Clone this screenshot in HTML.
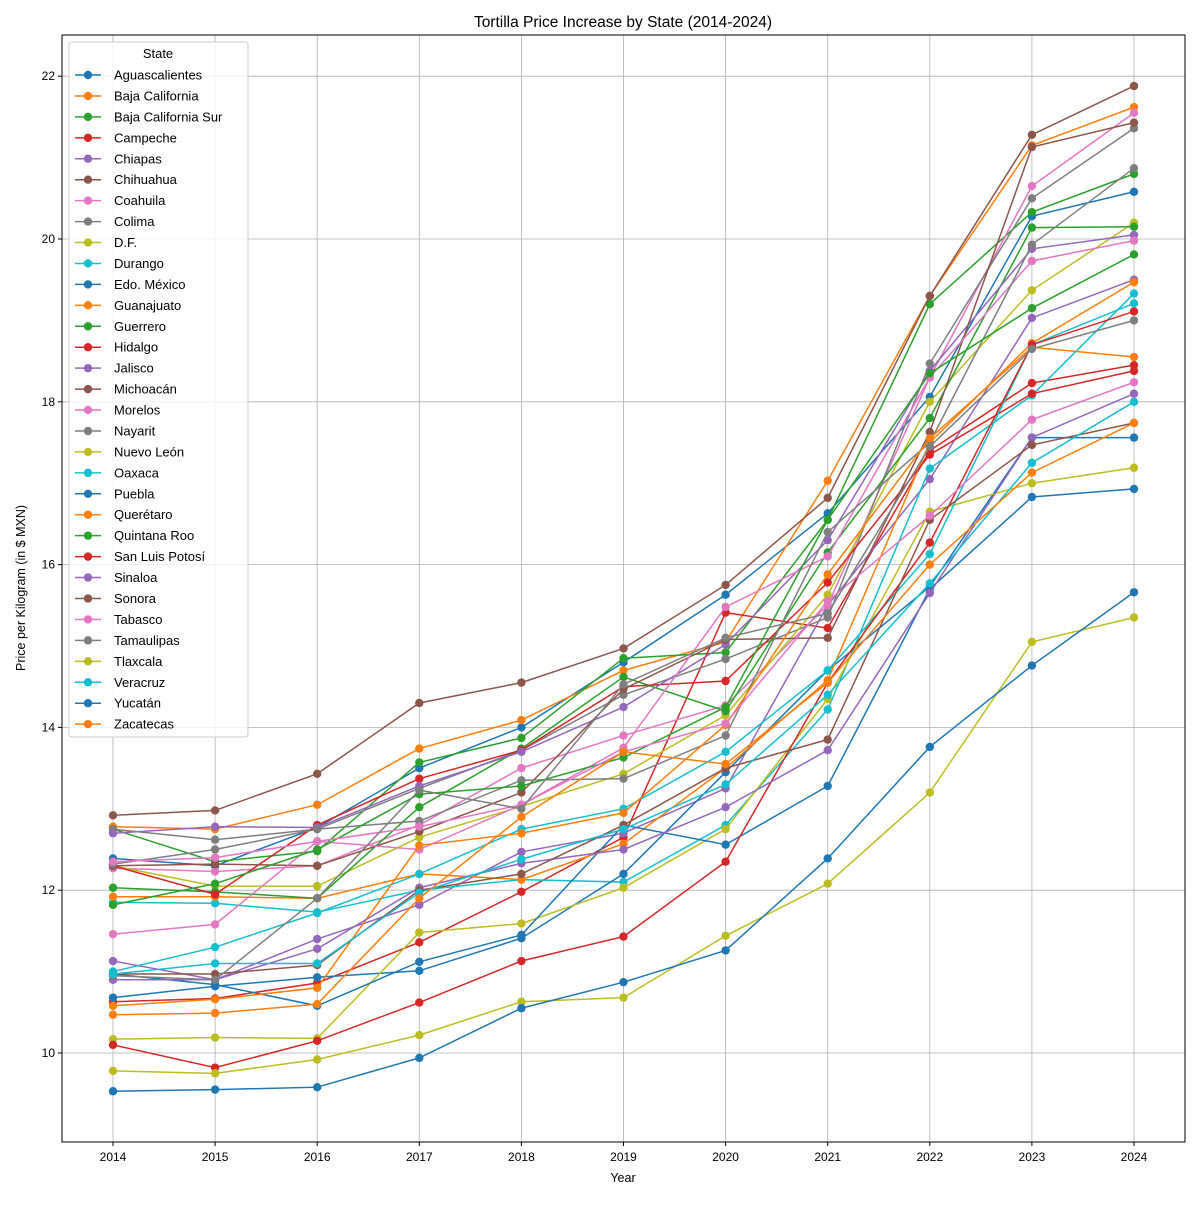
<!DOCTYPE html>
<html><head><meta charset="utf-8"><style>
body{margin:0;background:#fff}
svg{font-family:"Liberation Sans",sans-serif}
</style></head><body>
<svg id="chart" width="1200" height="1200" xmlns="http://www.w3.org/2000/svg"></svg>
<script>
const years=[2014,2015,2016,2017,2018,2019,2020,2021,2022,2023,2024];
const yTicks=[10,12,14,16,18,20,22];
const states=["Aguascalientes","Baja California","Baja California Sur","Campeche","Chiapas","Chihuahua","Coahuila","Colima","D.F.","Durango","Edo. México","Guanajuato","Guerrero","Hidalgo","Jalisco","Michoacán","Morelos","Nayarit","Nuevo León","Oaxaca","Puebla","Querétaro","Quintana Roo","San Luis Potosí","Sinaloa","Sonora","Tabasco","Tamaulipas","Tlaxcala","Veracruz","Yucatán","Zacatecas"];
const aguascalientes=[12.39,12.3,12.77,13.5,14.0,14.8,15.63,16.63,18.06,20.28,20.58];
const bajaCalifornia=[12.78,12.75,13.05,13.74,14.09,14.7,15.05,17.03,19.3,21.15,21.62];
const bajaCaliforniaSur=[12.75,12.35,12.48,13.57,13.87,14.85,14.92,16.55,19.2,20.33,20.8];
const campeche=[10.63,10.67,10.86,11.36,11.98,12.65,15.41,15.22,17.4,18.23,18.45];
const chiapas=[11.13,10.9,11.4,11.82,12.47,12.7,13.25,15.5,17.05,19.03,19.5];
const chihuahua=[12.92,12.98,13.43,14.3,14.55,14.97,15.75,16.82,19.3,21.28,21.88];
const coahuila=[12.27,12.23,12.3,12.8,13.5,13.9,14.27,15.5,18.3,20.65,21.55];
const colima=[12.75,12.62,12.75,13.25,13.72,14.4,14.84,15.35,18.47,20.5,21.36];
const df=[12.3,12.05,12.05,12.65,13.03,13.43,14.15,15.63,18.0,19.37,20.2];
const durango=[11.85,11.84,11.73,12.0,12.13,12.1,12.8,14.22,17.18,18.08,19.33];
const edoMexico=[10.68,10.82,10.93,11.01,11.41,12.2,13.45,14.7,15.73,17.56,17.56];
const guanajuato=[11.92,11.92,11.9,12.2,12.13,12.57,13.5,14.58,17.5,18.72,19.47];
const guerrero=[12.03,11.98,11.9,13.02,13.74,14.62,14.2,16.15,17.8,20.14,20.15];
const hidalgo=[12.3,11.95,12.8,13.37,13.72,14.5,14.57,15.78,17.35,18.1,18.38];
const jalisco=[12.7,12.78,12.77,13.28,13.7,14.25,15.02,16.3,18.38,19.88,20.05];
const michoacan=[12.3,12.32,12.3,12.72,13.2,14.47,15.08,15.1,17.63,21.13,21.43];
const morelos=[11.46,11.58,12.6,12.5,13.05,13.75,15.48,16.1,18.3,19.73,19.98];
const nayarit=[12.32,12.5,12.75,12.85,13.35,13.37,13.9,16.4,17.5,19.93,20.87];
const nuevoLeon=[10.17,10.19,10.18,11.48,11.59,12.03,12.75,14.35,16.65,17.0,17.19];
const oaxaca=[11.0,11.3,11.72,12.2,12.75,13.0,13.7,14.7,16.13,18.7,19.21];
const puebla=[10.97,10.84,10.58,11.12,11.45,12.8,12.56,13.28,15.7,16.83,16.93];
const queretaro=[10.58,10.66,10.8,12.55,12.7,12.95,14.03,15.88,17.55,18.67,18.55];
const quintanaRoo=[11.82,12.08,12.5,13.18,13.28,13.63,14.25,16.55,18.35,19.15,19.81];
const sanLuisPotosi=[10.1,9.82,10.15,10.62,11.13,11.43,12.35,14.55,16.27,18.7,19.11];
const sinaloa=[10.9,10.9,11.28,12.03,12.33,12.5,13.02,13.72,15.65,17.56,18.1];
const sonora=[10.97,10.97,11.08,12.0,12.2,12.8,13.5,13.85,16.55,17.47,17.74];
const tabasco=[12.35,12.4,12.6,12.78,13.05,13.7,14.05,15.55,16.6,17.78,18.24];
const tamaulipas=[10.95,10.9,11.9,13.23,13.0,14.53,15.1,15.4,17.45,18.65,19.0];
const tlaxcala=[9.78,9.75,9.92,10.22,10.63,10.68,11.44,12.08,13.2,15.05,15.35];
const veracruz=[10.97,11.1,11.1,11.97,12.38,12.75,13.3,14.4,15.77,17.25,18.0];
const yucatan=[9.53,9.55,9.58,9.94,10.55,10.87,11.26,12.39,13.76,14.76,15.66];
const zacatecas=[10.47,10.49,10.6,11.9,12.9,13.7,13.55,14.55,16.0,17.13,17.74];
const series=[aguascalientes,bajaCalifornia,bajaCaliforniaSur,campeche,chiapas,chihuahua,coahuila,colima,df,durango,edoMexico,guanajuato,guerrero,hidalgo,jalisco,michoacan,morelos,nayarit,nuevoLeon,oaxaca,puebla,queretaro,quintanaRoo,sanLuisPotosi,sinaloa,sonora,tabasco,tamaulipas,tlaxcala,veracruz,yucatan,zacatecas];
const colors=["#1f77b4","#ff7f0e","#2ca02c","#d62728","#9467bd","#8c564b","#e377c2","#7f7f7f","#bcbd22","#17becf"];

const NS="http://www.w3.org/2000/svg";
const svg=document.getElementById('chart');
const L=62,R=1185,T=35,B=1142;
const xMin=2013.5,xMax=2024.5,yMin=8.91,yMax=22.5;
function xs(v){return 113+(v-2014)*102.1;}
function ys(v){return 1053-(v-10)*81.4;}
function el(tag,attrs,parent){const e=document.createElementNS(NS,tag);for(const k in attrs)e.setAttribute(k,attrs[k]);(parent||svg).appendChild(e);return e;}

// grid
const grid=el('g',{});


years.forEach(y=>{el('line',{x1:xs(y),x2:xs(y),y1:T,y2:B,stroke:'#b0b0b0','stroke-width':0.8},grid);});
yTicks.forEach(v=>{el('line',{x1:L,x2:R,y1:ys(v),y2:ys(v),stroke:'#b0b0b0','stroke-width':0.8},grid);});

// series
series.forEach((vals,i)=>{
  const g=el('g',{});
  
  
  const c=colors[i%10];
  const pts=vals.map((v,j)=>xs(years[j])+','+ys(v)).join(' ');
  el('polyline',{points:pts,fill:'none',stroke:c,'stroke-width':1.5},g);
  vals.forEach((v,j)=>{el('circle',{cx:xs(years[j]),cy:ys(v),r:4.2,fill:c},g);});
});

// axes frame
const frame=el('rect',{x:L,y:T,width:R-L,height:B-T,fill:'none',stroke:'#000','stroke-width':1});



// x ticks
const xt=el('g',{});


years.forEach(y=>{
  el('line',{x1:xs(y),x2:xs(y),y1:B,y2:B+4,stroke:'#000'},xt);
  const t=el('text',{x:xs(y),y:B+19,'text-anchor':'middle','font-size':12},xt);t.textContent=y;
});
const yt=el('g',{});


yTicks.forEach(v=>{
  el('line',{x1:L-4,x2:L,y1:ys(v),y2:ys(v),stroke:'#000'},yt);
  const t=el('text',{x:L-7,y:ys(v)+4,'text-anchor':'end','font-size':12},yt);t.textContent=v;
});

// labels
const title=el('text',{x:623,y:27,'text-anchor':'middle','font-size':15.5});
title.textContent='Tortilla Price Increase by State (2014-2024)';


const xl=el('text',{x:623,y:1182,'text-anchor':'middle','font-size':12.5});
xl.textContent='Year';


const yl=el('text',{x:25,y:588,'text-anchor':'middle','font-size':12.5,transform:'rotate(-90 25 588)'});
yl.textContent='Price per Kilogram (in $ MXN)';



// legend
const lg=el('g',{});


el('rect',{x:69,y:42,width:179,height:695,rx:3,fill:'#fff','fill-opacity':0.8,stroke:'#ccc'},lg);
const lt=el('text',{x:158,y:58,'text-anchor':'middle','font-size':13},lg);lt.textContent='State';
states.forEach((s,i)=>{
  const e=el('g',{},lg);
  
  
  const y=75+i*20.94;
  const c=colors[i%10];
  el('line',{x1:75,x2:101,y1:y,y2:y,stroke:c,'stroke-width':1.5},e);
  el('circle',{cx:88,cy:y,r:4.2,fill:c},e);
  const t=el('text',{x:114,y:y+4.5,'font-size':13},e);t.textContent=s;
});
</script>
</body></html>
